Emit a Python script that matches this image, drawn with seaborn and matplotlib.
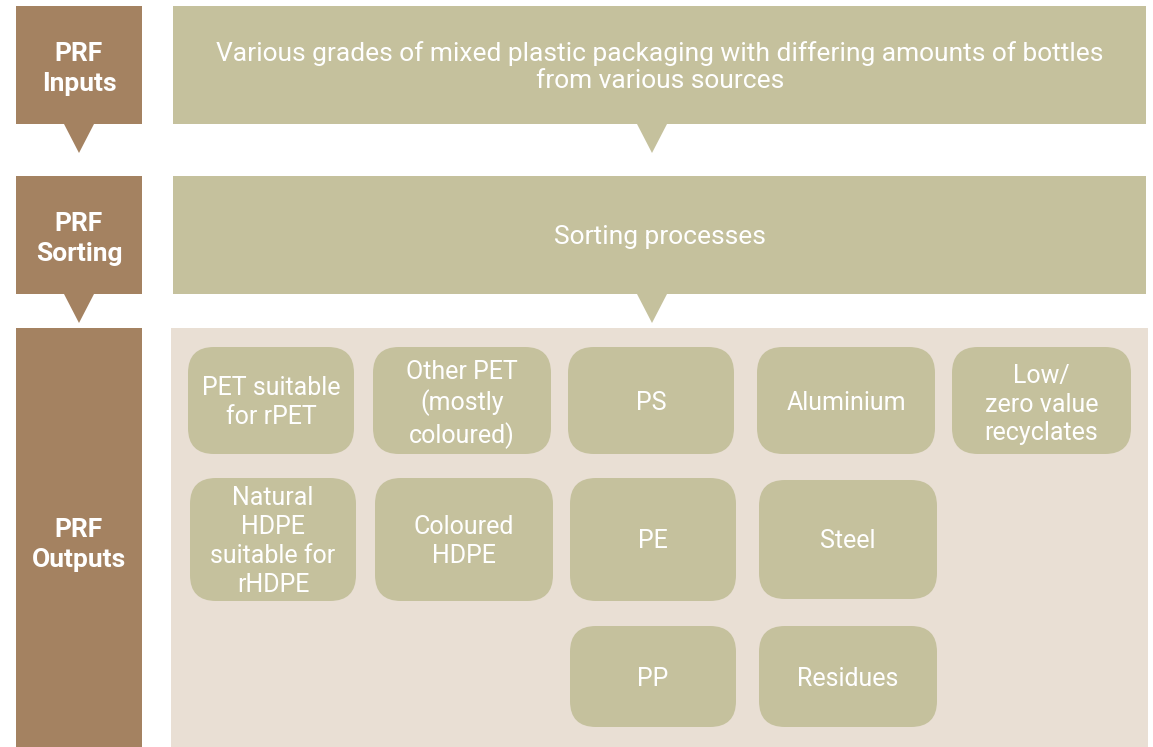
import matplotlib
matplotlib.use("Agg")
import matplotlib.pyplot as plt
from matplotlib.patches import FancyBboxPatch, Rectangle, Polygon
import seaborn as sns

# stage labels and what goes in the big header boxes
stage_labels = ["PRF\nInputs", "PRF\nSorting", "PRF\nOutputs"]
stage_texts = [
    "Various grades of mixed plastic packaging with differing amounts of bottles\nfrom various sources",
    "Sorting processes",
    None,
]

# output categories
output_labels = [
    "PET suitable\nfor rPET", "Other PET\n(mostly\ncoloured)", "PS", "Aluminium", "Low/\nzero value\nrecyclates",
    "Natural\nHDPE\nsuitable for\nrHDPE", "Coloured\nHDPE", "PE", "Steel",
    "PP", "Residues",
]

# layout (pixels)
stage_rows = [(6, 124), (176, 294), (328, 747)]
out_boxes = [
    (188, 354, 347, 454), (373, 551, 347, 454), (568, 734, 347, 454), (757, 935, 347, 454), (952, 1131, 347, 454),
    (190, 356, 478, 601), (375, 553, 478, 601), (570, 736, 478, 601), (759, 937, 480, 599),
    (570, 736, 626, 727), (759, 937, 626, 727),
]

brown = "#A48261"
green = "#C5C19D"
pale = "#E9DFD4"

sns.set_style("white")
plt.rcParams["font.family"] = ["Roboto", "DejaVu Sans"]

fig = plt.figure(figsize=(11.53, 7.47), dpi=100)
ax = fig.add_axes([0, 0, 1, 1])
ax.set_xlim(0, 1153)
ax.set_ylim(747, 0)
ax.axis("off")

for i, (label, text) in enumerate(zip(stage_labels, stage_texts)):
    y0, y1 = stage_rows[i]
    ax.add_patch(Rectangle((16, y0), 126, y1 - y0, color=brown, lw=0))
    ax.text(79, (y0 + y1) / 2 + 4 if i < 2 else 545, label, color="white", fontsize=19,
            fontweight="bold", ha="center", va="center", linespacing=1.35)
    if i < 2:
        ax.add_patch(Polygon([(64, y1), (94, y1), (79, y1 + 29)], color=brown, lw=0))
        ax.add_patch(Rectangle((173, y0), 973, y1 - y0, color=green, lw=0))
        ax.add_patch(Polygon([(637, y1), (667, y1), (652, y1 + 29)], color=green, lw=0))
        ax.text(660, (y0 + y1) / 2 + 2, text, color="white", fontsize=19,
                ha="center", va="center", linespacing=1.2)
    else:
        ax.add_patch(Rectangle((171, y0), 977, y1 - y0, color=pale, lw=0))

for label, (x0, x1, y0, y1) in zip(output_labels, out_boxes):
    ax.add_patch(FancyBboxPatch((x0, y0), x1 - x0, y1 - y0,
                                boxstyle="round,pad=0,rounding_size=26",
                                facecolor=green, edgecolor="none"))
    nudge = 4 if label.count("\n") == 2 else 2
    ax.text((x0 + x1) / 2, (y0 + y1) / 2 + nudge, label, color="white", fontsize=18,
            ha="center", va="center", linespacing=1.25)

fig.savefig("out.png", dpi=100)
